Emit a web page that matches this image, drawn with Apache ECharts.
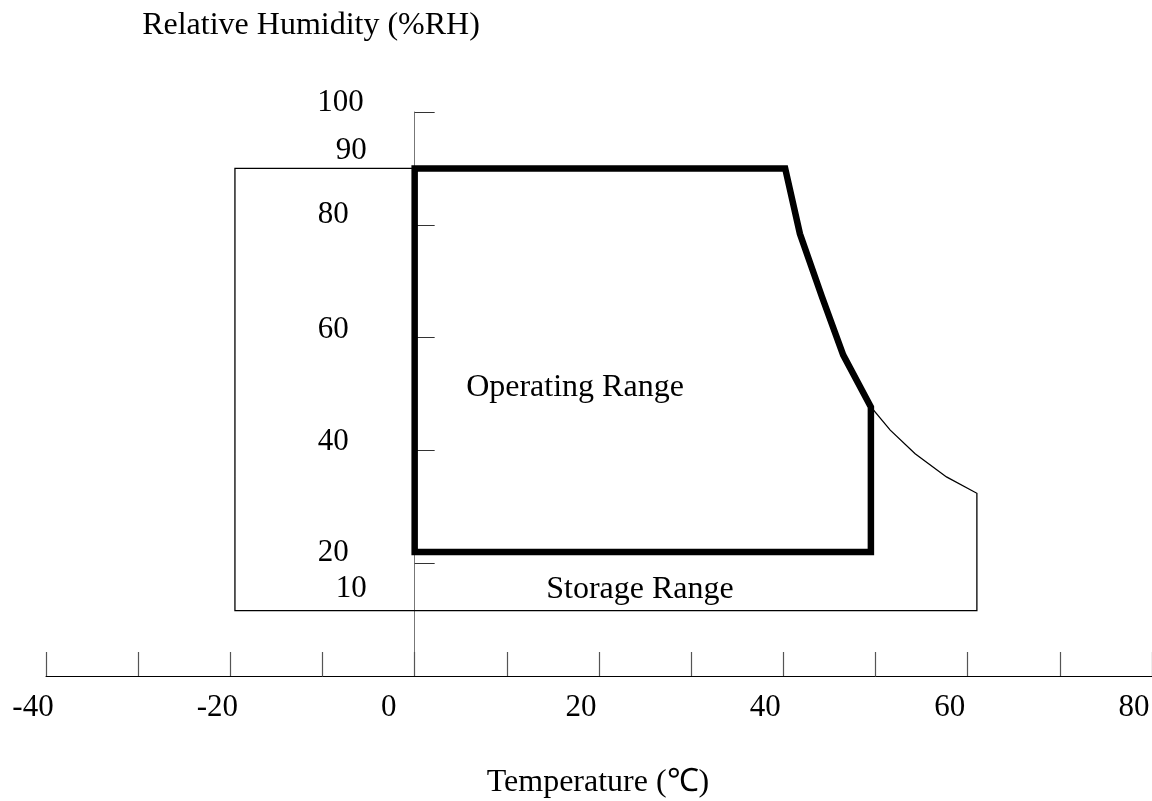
<!DOCTYPE html>
<html><head><meta charset="utf-8">
<script src="https://cdn.jsdelivr.net/npm/echarts@6/dist/echarts.min.js"></script>
<style>html,body{margin:0;padding:0;background:#fff}#c{width:1152px;height:801px}</style>
</head><body><div id="c"></div>
<script>
// ---- data ----
const xTickLabels = [-40, -20, 0, 20, 40, 60, 80];
const yTickLabels = [10, 20, 40, 60, 80, 90, 100];
const yTickMarks = [20, 40, 60, 80, 100];
const storageX = [-19.5, 40.2, 41.8, 44.2, 46.5, 49.5, 51.6, 54.3, 57.7, 61.0, 61.0, -19.5, -19.5];
const storageY = [90, 90, 78.4, 67.2, 56.9, 47.7, 43.6, 39.4, 35.3, 32.4, 11.6, 11.6, 90];
const operatingX = [0, 0, 40.2, 41.8, 44.2, 46.5, 49.5, 49.5, 0];
const operatingY = [22, 90, 90, 78.4, 67.2, 56.9, 47.7, 22, 22];
const texts = {
  yName: 'Relative Humidity (%RH)',
  xName: 'Temperature (\u2103)',
  operating: 'Operating Range',
  storage: 'Storage Range'
};

const FONT = '"Liberation Serif", "Times New Roman", serif';
const zip = (xs, ys) => xs.map((x, i) => [x, ys[i]]);
const GRID_LEFT = 46;

// label nudges (style only)
const yRich = {
  l100: { padding: [0, 3, 18, 0] },
  l90: { padding: [0, 0, 36, 0] },
  l80: { padding: [0, 18, 20, 0] },
  l60: { padding: [0, 18, 16, 0] },
  l40: { padding: [0, 18, 18, 0] },
  l20: { padding: [0, 18, 20, 0] },
  l10: { padding: [0, 0, 62, 0] }
};
Object.values(yRich).forEach(s => { s.fontFamily = FONT; s.fontSize = 31; s.color = '#000'; });
const xRich = {
  xl: { padding: [0, 36, 0, 0] },
  xs: { padding: [0, 26, 0, 0] },
  x0: { padding: [0, 52, 0, 0] }
};
Object.values(xRich).forEach(s => { s.fontFamily = FONT; s.fontSize = 31; s.color = '#000'; });

const chart = echarts.init(document.getElementById('c'), null, { renderer: 'canvas' });
const textEl = (str, x, y) => ({
  type: 'text', x: x, y: y, silent: true,
  style: { text: str, font: '32px ' + FONT, fontSize: 32, fontFamily: FONT, fill: '#000',
           align: 'center', verticalAlign: 'middle', textAlign: 'center', textVerticalAlign: 'middle' }
});

chart.setOption({
  animation: false,
  backgroundColor: '#fff',
  grid: { left: GRID_LEFT, right: 0, top: 112, bottom: 125, containLabel: false, outerBoundsMode: 'none' },
  xAxis: {
    type: 'value', min: -40, max: 80, interval: 10,
    axisLine: { show: true, onZero: true, lineStyle: { color: '#000', width: 1 } },
    axisTick: { show: true, inside: true, length: 24, lineStyle: { color: '#555', width: 1.2 } },
    axisLabel: {
      show: true, margin: 16, customValues: xTickLabels,
      formatter: v => (v === 0 ? '{x0|0}' : (v < 0 ? '{xs|' + v + '}' : '{xl|' + v + '}')),
      rich: xRich
    },
    splitLine: { show: false }
  },
  yAxis: {
    type: 'value', min: 0, max: 100, interval: 10, position: 'left',
    axisLine: { show: true, onZero: false, lineStyle: { color: '#777', width: 1 } },
    axisTick: { show: true, inside: true, length: 20, customValues: yTickMarks, lineStyle: { color: '#333', width: 1 } },
    axisLabel: {
      show: true, margin: 48, customValues: yTickLabels,
      formatter: v => '{l' + v + '|' + v + '}',
      rich: yRich
    },
    splitLine: { show: false }
  },
  series: [{
    name: 'Storage Range', type: 'line',
    data: zip(storageX, storageY), symbol: 'none', showSymbol: false, smooth: false, silent: true,
    lineStyle: { color: '#000', width: 1.3, join: 'miter', cap: 'square' }, z: 3
  }, {
    name: 'Operating Range', type: 'line',
    data: zip(operatingX, operatingY), symbol: 'none', showSymbol: false, smooth: false, silent: true,
    lineStyle: { color: '#000', width: 6.5, join: 'miter', cap: 'square' }, z: 4
  }],
  graphic: [
    textEl(texts.yName, 311, 26),
    textEl(texts.xName, 598, 783),
    textEl(texts.operating, 575, 388),
    textEl(texts.storage, 640, 590)
  ]
});

// place the vertical axis where the temperature scale reads 0 (computed from the x scale)
const zeroPx = chart.convertToPixel({ xAxisIndex: 0 }, 0);
chart.setOption({ yAxis: { offset: -(zeroPx - GRID_LEFT) } });
</script>
</body></html>
